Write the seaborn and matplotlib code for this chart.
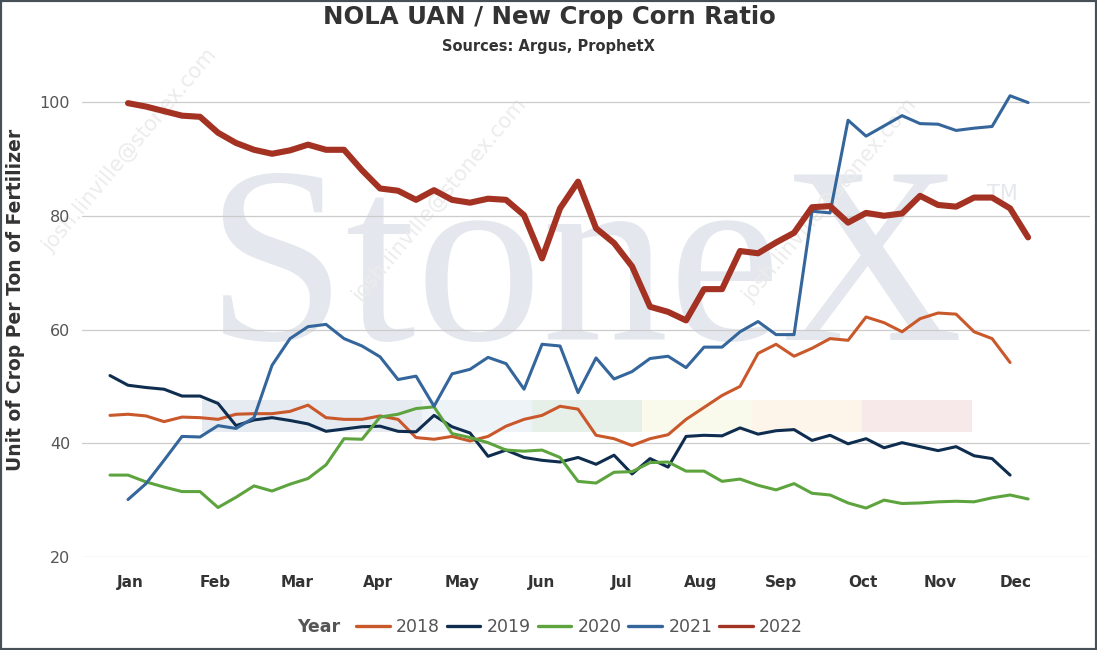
import matplotlib
matplotlib.use("Agg")
import matplotlib.pyplot as plt
import pandas as pd
import seaborn as sns
from matplotlib.lines import Line2D
from matplotlib.patches import Rectangle

# weekly ratio per year
years = ["2018", "2019", "2020", "2021", "2022"]
first_week = [0, 0, 0, 1, 1]

ratio_2018 = [44.9, 45.1, 44.8, 43.8, 44.6, 44.5, 44.2, 45.1, 45.2, 45.2,
              45.6, 46.7, 44.5, 44.2, 44.2, 44.8, 44.2, 41.0, 40.7, 41.2,
              40.4, 41.2, 43.0, 44.2, 44.9, 46.5, 46.0, 41.4, 40.8, 39.6,
              40.8, 41.5, 44.2, 46.3, 48.4, 50.0, 55.8, 57.4, 55.3, 56.7,
              58.4, 58.1, 62.2, 61.2, 59.6, 61.9, 62.9, 62.7, 59.6, 58.4,
              54.2]
ratio_2019 = [51.9, 50.2, 49.8, 49.5, 48.3, 48.3, 47.0, 43.1, 44.1, 44.5,
              44.0, 43.4, 42.1, 42.5, 42.9, 43.0, 42.1, 42.0, 44.9, 42.9,
              41.8, 37.7, 38.8, 37.5, 37.0, 36.7, 37.5, 36.3, 37.9, 34.6,
              37.3, 35.8, 41.2, 41.4, 41.3, 42.7, 41.6, 42.2, 42.4, 40.5,
              41.4, 39.9, 40.8, 39.2, 40.1, 39.4, 38.7, 39.4, 37.8, 37.3,
              34.4]
ratio_2020 = [34.4, 34.4, 33.2, 32.3, 31.5, 31.5, 28.7, 30.5, 32.5, 31.6,
              32.8, 33.8, 36.2, 40.8, 40.7, 44.6, 45.1, 46.1, 46.4, 41.7,
              41.0, 40.1, 38.8, 38.6, 38.8, 37.5, 33.3, 33.0, 34.9, 35.0,
              36.6, 36.7, 35.1, 35.1, 33.3, 33.7, 32.6, 31.8, 32.9, 31.2,
              30.9, 29.5, 28.6, 30.0, 29.4, 29.5, 29.7, 29.8, 29.7, 30.4,
              30.9, 30.2]
ratio_2021 = [30.1, 32.9, 37.0, 41.2, 41.1, 43.1, 42.6, 44.5, 53.7, 58.4,
              60.5, 60.9, 58.4, 57.1, 55.2, 51.2, 51.8, 46.5, 52.2, 53.0,
              55.1, 54.0, 49.5, 57.4, 57.1, 48.9, 55.0, 51.3, 52.6, 54.9,
              55.3, 53.3, 56.9, 56.9, 59.6, 61.4, 59.1, 59.1, 80.8, 80.5,
              96.8, 94.0, 95.8, 97.6, 96.2, 96.1, 95.0, 95.4, 95.7, 101.1,
              99.9]
ratio_2022 = [99.8, 99.2, 98.4, 97.6, 97.4, 94.6, 92.8, 91.6, 90.9, 91.5,
              92.5, 91.6, 91.6, 88.0, 84.8, 84.4, 82.8, 84.5, 82.8, 82.3,
              83.0, 82.8, 80.1, 72.5, 81.3, 86.0, 77.8, 75.2, 71.1, 64.0,
              63.1, 61.6, 67.1, 67.1, 73.8, 73.4, 75.3, 77.0, 81.5, 81.7,
              78.8, 80.5, 80.0, 80.4, 83.5, 81.9, 81.6, 83.2, 83.2, 81.3,
              76.2]

months = ["Jan", "Feb", "Mar", "Apr", "May", "Jun",
          "Jul", "Aug", "Sep", "Oct", "Nov", "Dec"]
month_weeks = [1.15, 5.82, 10.39, 14.89, 19.57, 24.0,
               28.4, 32.8, 37.3, 41.8, 46.1, 50.3]

colors = {"2018": "#c9582b", "2019": "#0f2d4f", "2020": "#5ea43e",
          "2021": "#34669c", "2022": "#a33223"}
widths = {"2018": 2.2, "2019": 2.2, "2020": 2.2, "2021": 2.2, "2022": 4.4}

series = [ratio_2018, ratio_2019, ratio_2020, ratio_2021, ratio_2022]
rows = []
for yr, start, vals in zip(years, first_week, series):
    for i, v in enumerate(vals):
        rows.append((start + i, v, yr))
df = pd.DataFrame(rows, columns=["Week", "Ratio", "Year"])

sns.set_theme(style="white")
plt.rcParams["font.family"] = ["DejaVu Sans"]

W, H = 1097, 650
fig = plt.figure(figsize=(W / 100, H / 100), dpi=100)
ax = fig.add_axes([82 / W, 0.1431, 1008 / W, 0.7437])
ax.patch.set_alpha(0)

# ---- StoneX watermark ----
wm = "#e4e8ee"
ax.text(205 / W, (H - 340) / H, "StoneX", transform=fig.transFigure,
        fontsize=182, family="Liberation Serif", color=wm,
        ha="left", va="baseline", zorder=0)
ax.text(1002 / W, (H - 194) / H, "TM", transform=fig.transFigure,
        fontsize=15, color=wm, ha="center", va="center", zorder=0)
bands = [(202, 422, "#e6eaf1"), (422, 532, "#eef3f8"), (532, 642, "#e7efe9"),
         (642, 752, "#f9f9ec"), (752, 862, "#fdf5e9"), (862, 972, "#f7e8ea")]
for x0, x1, c in bands:
    ax.add_patch(Rectangle((x0 / W, (H - 432) / H), (x1 - x0) / W, 32 / H,
                           transform=fig.transFigure, color=c, lw=0,
                           zorder=0, clip_on=False))
for cx, cy in [(130, 150), (440, 200), (830, 200)]:
    ax.text(cx / W, (H - cy) / H, "josh.linville@stonex.com",
            transform=fig.transFigure, fontsize=15, color="#ececec",
            rotation=50, ha="center", va="center", zorder=0)

# ---- lines ----
for yr in years:
    sns.lineplot(data=df[df["Year"] == yr], x="Week", y="Ratio",
                 color=colors[yr], linewidth=widths[yr], ax=ax,
                 legend=False, zorder=3, solid_joinstyle="round",
                 solid_capstyle="round")

ax.set_xlim(-1.556, 54.44)
ax.set_ylim(20, 105)
ax.set_yticks([20, 40, 60, 80, 100])
ax.set_xticks(month_weeks)
ax.set_xticklabels(months, fontweight="bold", fontsize=11, color="#333333")
ax.tick_params(axis="x", length=0, pad=13)
ax.tick_params(axis="y", length=0, pad=8.5, labelsize=11.5, labelcolor="#555555")
ax.grid(axis="y", color="#cccccc", linewidth=0.9)
ax.grid(axis="x", visible=False)
ax.set_axisbelow(True)
for s in ax.spines.values():
    s.set_visible(False)

ax.set_xlabel("")
ax.set_ylabel("Unit of Crop Per Ton of Fertilizer", fontsize=13.5,
              fontweight="bold", color="#333333")
ax.yaxis.set_label_coords(-0.0565, 0.532)

fig.text(0.501, (H - 17) / H, "NOLA UAN / New Crop Corn Ratio",
         ha="center", va="center", fontsize=17.6, fontweight="bold",
         color="#333333")
fig.text(0.4995, (H - 47) / H, "Sources: Argus, ProphetX",
         ha="center", va="center", fontsize=10.5, fontweight="bold",
         color="#333333")

# ---- legend ----
handles = [Line2D([], [], color=colors[y], lw=2.4) for y in years]
fig.text(340 / W, (H - 627) / H, "Year", ha="right", va="center",
         fontsize=12.5, fontweight="bold", color="#555555")
fig.legend(handles, years, loc="center left",
           bbox_to_anchor=(347 / W, (H - 627) / H), ncol=5, frameon=False,
           fontsize=12.5, labelcolor="#555555", handlelength=1.95,
           handletextpad=0.35, columnspacing=0.4, borderpad=0)

# chart border
fig.patches.append(Rectangle((0, 0), 1, 1, transform=fig.transFigure,
                             fill=False, edgecolor="#474f57", lw=3))

fig.savefig("out.png", dpi=100)
